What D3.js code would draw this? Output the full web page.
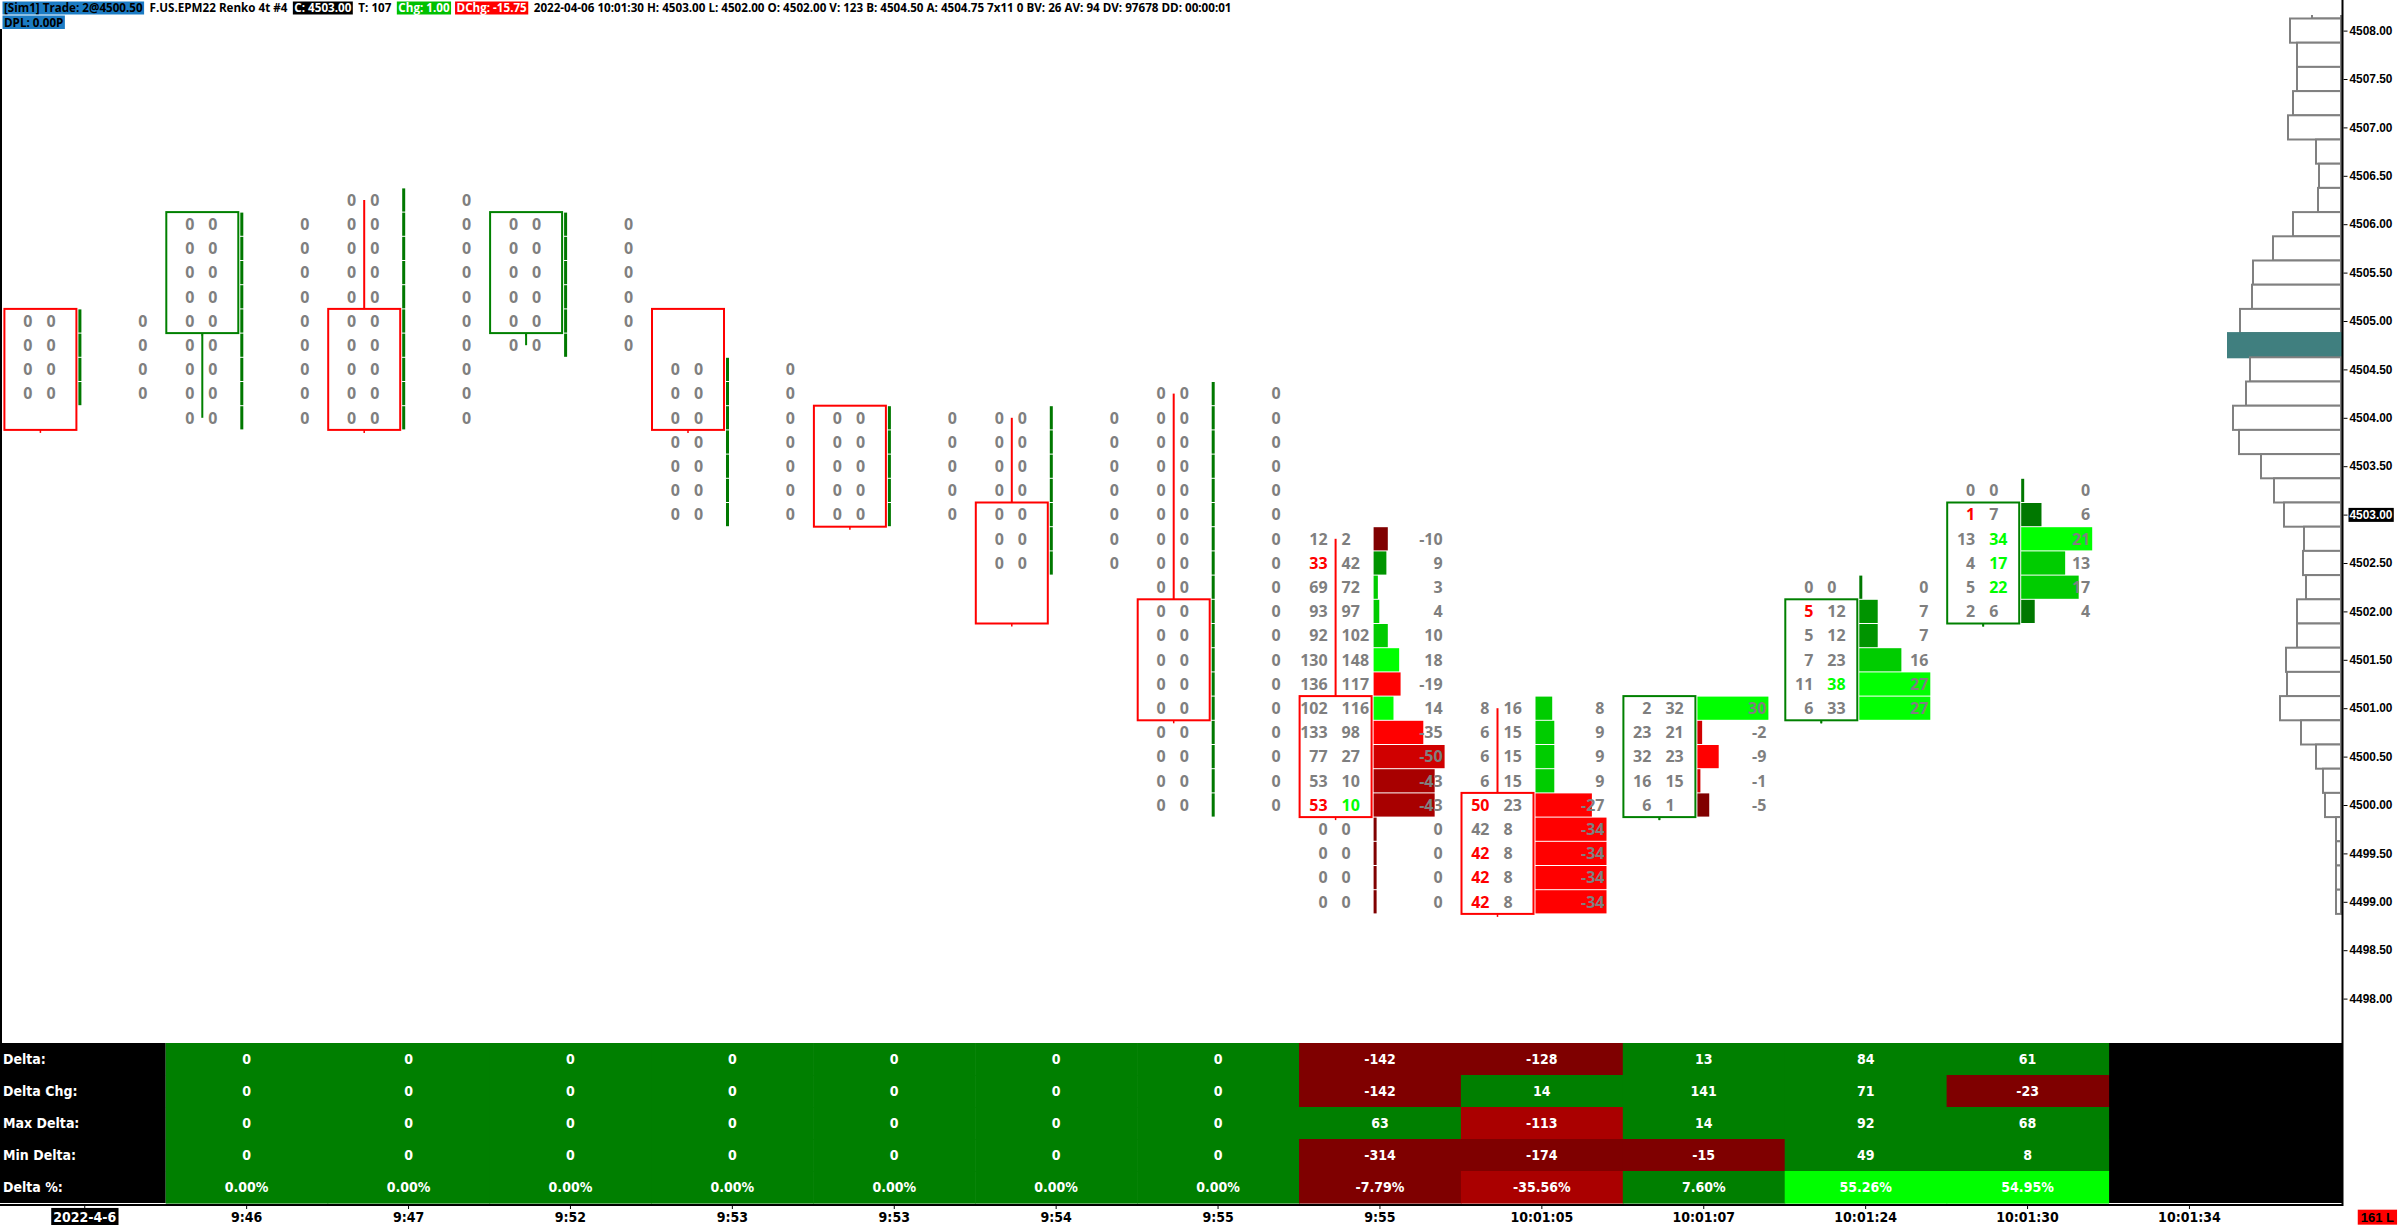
<!DOCTYPE html>
<html>
<head>
<meta charset="utf-8">
<script src="https://cdn.jsdelivr.net/npm/d3@7"></script>
<style>
  html, body { margin: 0; padding: 0; background: #fff; }
  svg { display: block; }
</style>
</head>
<body>
<div id="chart"></div>
<script>
// ---- data ----
const barTimes = ["2022-4-6", "9:46", "9:47", "9:52", "9:53", "9:53", "9:54", "9:55", "9:55",
    "10:01:05", "10:01:07", "10:01:24", "10:01:30", "10:01:34"];

const barOpen  = [4505, 4505, 4505, 4505, 4505, 4504, 4503, 4502, 4501, 4500, 4500, 4501, 4502];
const barClose = [4504, 4506, 4504, 4506, 4504, 4503, 4502, 4501, 4500, 4499, 4501, 4502, 4503];
const barHigh  = [4505, 4506, 4506.25, 4506, 4504.5, 4504, 4504, 4504.25, 4502.75, 4501, 4501, 4502.25, 4503.25];
const barLow   = [4504.25, 4504, 4504, 4504.75, 4503, 4503, 4502.5, 4500, 4499, 4499, 4500, 4501, 4502];

// bid / ask volume per price row, from the bar high down to the bar low
const barBids = [
    [0, 0, 0, 0],
    [0, 0, 0, 0, 0, 0, 0, 0, 0],
    [0, 0, 0, 0, 0, 0, 0, 0, 0, 0],
    [0, 0, 0, 0, 0, 0],
    [0, 0, 0, 0, 0, 0, 0],
    [0, 0, 0, 0, 0],
    [0, 0, 0, 0, 0, 0, 0],
    [0, 0, 0, 0, 0, 0, 0, 0, 0, 0, 0, 0, 0, 0, 0, 0, 0, 0],
    [12, 33, 69, 93, 92, 130, 136, 102, 133, 77, 53, 53, 0, 0, 0, 0],
    [8, 6, 6, 6, 50, 42, 42, 42, 42],
    [2, 23, 32, 16, 6],
    [0, 5, 5, 7, 11, 6],
    [0, 1, 13, 4, 5, 2]
];
const barAsks = [
    [0, 0, 0, 0],
    [0, 0, 0, 0, 0, 0, 0, 0, 0],
    [0, 0, 0, 0, 0, 0, 0, 0, 0, 0],
    [0, 0, 0, 0, 0, 0],
    [0, 0, 0, 0, 0, 0, 0],
    [0, 0, 0, 0, 0],
    [0, 0, 0, 0, 0, 0, 0],
    [0, 0, 0, 0, 0, 0, 0, 0, 0, 0, 0, 0, 0, 0, 0, 0, 0, 0],
    [2, 42, 72, 97, 102, 148, 117, 116, 98, 27, 10, 10, 0, 0, 0, 0],
    [16, 15, 15, 15, 23, 8, 8, 8, 8],
    [32, 21, 23, 15, 1],
    [0, 12, 12, 23, 38, 33],
    [0, 7, 34, 17, 22, 6]
];

// [bar, price] of highlighted imbalance cells
const bidImbalances = [[8, 4502.5], [8, 4500], [9, 4500], [9, 4499.5], [9, 4499.25], [9, 4499], [11, 4502], [12, 4503]];
const askImbalances = [[8, 4500], [11, 4501.25], [12, 4502.75], [12, 4502.5], [12, 4502.25]];

// summary table, bars 1..12
const summaryLabels = ["Delta:", "Delta Chg:", "Max Delta:", "Min Delta:", "Delta %:"];
const deltaValues    = [0, 0, 0, 0, 0, 0, 0, -142, -128, 13, 84, 61];
const deltaChgValues = [0, 0, 0, 0, 0, 0, 0, -142, 14, 141, 71, -23];
const maxDeltaValues = [0, 0, 0, 0, 0, 0, 0, 63, -113, 14, 92, 68];
const minDeltaValues = [0, 0, 0, 0, 0, 0, 0, -314, -174, -15, 49, 8];
const deltaPctValues = [0, 0, 0, 0, 0, 0, 0, -7.79, -35.56, 7.60, 55.26, 54.95];

// session volume profile
const profilePrices = [4508.25, 4508, 4507.75, 4507.5, 4507.25, 4507, 4506.75, 4506.5, 4506.25, 4506,
    4505.75, 4505.5, 4505.25, 4505, 4504.75, 4504.5, 4504.25, 4504, 4503.75, 4503.5, 4503.25, 4503,
    4502.75, 4502.5, 4502.25, 4502, 4501.75, 4501.5, 4501.25, 4501, 4500.75, 4500.5, 4500.25, 4500,
    4499.75, 4499.5, 4499.25, 4499];
const profileVolumes = [290, 510, 440, 440, 480, 530, 250, 220, 230, 480,
    680, 880, 890, 1010, 1130, 910, 950, 1080, 1020, 800, 670, 570,
    370, 380, 350, 440, 440, 550, 540, 610, 400, 250, 180, 160,
    50, 50, 50, 50];
const pocPrice = 4504.75;
const lastPrice = 4503.00;

const priceTicks = [4508, 4507.5, 4507, 4506.5, 4506, 4505.5, 4505, 4504.5, 4504, 4503.5, 4503,
    4502.5, 4502, 4501.5, 4501, 4500.5, 4500, 4499.5, 4499, 4498.5, 4498];

// ---- layout ----
const width = 2400, height = 1225;
const axisX = 2342;
const bottomY = 1205;
const tableTop = 1043, tableRowH = 32;
const step = 161.9;
const numFont = "'Open Sans', 'DejaVu Sans', sans-serif";
const narrowFont = "'Liberation Sans Narrow', 'DejaVu Sans Condensed', 'Liberation Sans', sans-serif";
const axisFont = "'Liberation Sans', Arial, sans-serif";
const grey = "#7f7f7f";
const redShades = ["#800000", "#a80000", "#d00000", "#ff0000"];
const greenShades = ["#007800", "#009400", "#00cc00", "#00ff00"];

const x = d3.scaleBand(d3.range(barTimes.length), [3.8, 3.8 + step * barTimes.length]).padding(0);
const y = d3.scaleLinear([4498, 4508], [998.6, 30.6]);
const rowH = y(4508) - y(4508.25);
const a = i => x(i) + 74.6;          // left edge of the delta bar column of a bar

const level = d3.scaleThreshold([0.25, 0.45, 0.75], [0, 1, 2, 3]);

const svg = d3.select("#chart")
    .append("svg")
    .attr("width", width)
    .attr("height", height)
    .attr("viewBox", [0, 0, width, height]);

svg.append("rect").attr("width", width).attr("height", height).attr("fill", "#fff");

// width of a string in a given face
function measure(sample, family, weight, size) {
    const t = svg.append("text")
        .attr("font-family", family).attr("font-weight", weight).attr("font-size", size)
        .style("white-space", "pre")
        .text(sample);
    const w = t.node().getComputedTextLength();
    t.remove();
    return w;
}

// ---- footprint rows ----
const key = (b, p) => b + "|" + p;
const bidImb = new Set(bidImbalances.map(([b, p]) => key(b, p)));
const askImb = new Set(askImbalances.map(([b, p]) => key(b, p)));

const rows = [];
barBids.forEach((bids, b) => {
    const asks = barAsks[b];
    const net = d3.sum(asks) - d3.sum(bids);
    const maxBid = d3.max(bids), maxAsk = d3.max(asks);
    const maxAbs = d3.max(bids, (v, k) => Math.abs(asks[k] - v));
    bids.forEach((bid, k) => {
        const ask = asks[k];
        const price = barHigh[b] - 0.25 * k;
        rows.push({ b, price, bid, ask, delta: ask - bid, net, maxBid, maxAsk, maxAbs });
    });
});

const barLen = d => d.delta === 0 || !d.maxAbs ? 3 : Math.max(3, Math.abs(d.delta) / d.maxAbs * 71);
const barColor = d => {
    if (d.delta === 0) return d.net < 0 ? redShades[0] : greenShades[0];
    if (d.delta > 0) return greenShades[level(d.ask / d.maxAsk)];
    return redShades[level(d.bid / d.maxBid)];
};

svg.append("g")
    .selectAll("rect")
    .data(rows)
    .join("rect")
    .attr("x", d => a(d.b))
    .attr("y", d => y(d.price) - rowH / 2 + 0.5)
    .attr("width", barLen)
    .attr("height", rowH - 1)
    .attr("fill", barColor);

// bricks and wicks
const bricks = d3.range(barOpen.length);
const brickColor = i => barClose[i] > barOpen[i] ? "#008000" : "#ff0000";
const brickTop = i => y(Math.max(barOpen[i], barClose[i])) - rowH / 2;
const brickBottom = i => y(Math.min(barOpen[i], barClose[i])) + rowH / 2;

svg.append("g")
    .attr("fill", "none")
    .attr("stroke-width", 2)
    .selectAll("rect")
    .data(bricks)
    .join("rect")
    .attr("x", i => a(i) - 74)
    .attr("y", brickTop)
    .attr("width", 72)
    .attr("height", i => brickBottom(i) - brickTop(i))
    .attr("stroke", brickColor);

svg.append("g")
    .attr("stroke-width", 2)
    .selectAll("line")
    .data(bricks)
    .join("line")
    .attr("x1", i => a(i) - 38)
    .attr("x2", i => a(i) - 38)
    .attr("y1", i => barClose[i] > barOpen[i] ? brickBottom(i) : brickTop(i))
    .attr("y2", i => {
        if (barClose[i] > barOpen[i]) return barLow[i] < barOpen[i] ? y(barLow[i]) : brickBottom(i) + 3;
        return barHigh[i] > barOpen[i] ? y(barHigh[i]) : brickTop(i);
    })
    .attr("stroke", brickColor);

// little tick under every brick
svg.append("g")
    .attr("stroke-width", 1.5)
    .selectAll("line")
    .data(bricks)
    .join("line")
    .attr("x1", i => a(i) - 38)
    .attr("x2", i => a(i) - 38)
    .attr("y1", brickBottom)
    .attr("y2", i => brickBottom(i) + 3)
    .attr("stroke", brickColor);

// numbers
const txt = svg.append("g")
    .attr("font-family", numFont)
    .attr("font-weight", 700)
    .attr("font-size", 16);

txt.selectAll("text.bid")
    .data(rows)
    .join("text")
    .attr("class", "bid")
    .attr("x", d => a(d.b) - 46)
    .attr("y", d => y(d.price))
    .attr("dy", "0.36em")
    .attr("text-anchor", "end")
    .attr("fill", d => bidImb.has(key(d.b, d.price)) ? "#ff0000" : grey)
    .text(d => d.bid);

txt.selectAll("text.ask")
    .data(rows)
    .join("text")
    .attr("class", "ask")
    .attr("x", d => a(d.b) - 32)
    .attr("y", d => y(d.price))
    .attr("dy", "0.36em")
    .attr("text-anchor", "start")
    .attr("fill", d => askImb.has(key(d.b, d.price)) ? "#00ff00" : grey)
    .text(d => d.ask);

txt.selectAll("text.delta")
    .data(rows)
    .join("text")
    .attr("class", "delta")
    .attr("x", d => a(d.b) + 69)
    .attr("y", d => y(d.price))
    .attr("dy", "0.36em")
    .attr("text-anchor", "end")
    .attr("fill", grey)
    .text(d => d.delta);

// ---- volume profile ----
svg.append("clipPath").attr("id", "clip")
    .append("rect").attr("x", 2000).attr("y", 15).attr("width", axisX - 2000).attr("height", 1000);

const vol = d3.scaleLinear([0, d3.max(profileVolumes)], [0, 113]);
svg.append("g")
    .attr("clip-path", "url(#clip)")
    .selectAll("rect")
    .data(profilePrices)
    .join("rect")
    .attr("x", (p, k) => axisX - 1 - vol(profileVolumes[k]))
    .attr("y", p => y(p) - rowH / 2)
    .attr("width", (p, k) => vol(profileVolumes[k]))
    .attr("height", rowH)
    .attr("fill", p => p === pocPrice ? "#407f7f" : "#fff")
    .attr("stroke", p => p === pocPrice ? "#407f7f" : "#808080")
    .attr("stroke-width", 2);

// ---- summary table ----
const summaryRows = [deltaValues, deltaChgValues, maxDeltaValues, minDeltaValues, deltaPctValues];
const strongAt = [Infinity, Infinity, 100, Infinity, 30];
const cellColor = (v, s) => v < 0 ? (-v >= s ? "#aa0000" : "#7f0000") : (v >= s ? "#00ff00" : "#007f00");
const fmt = (v, r) => r === 4 ? v.toFixed(2) + "%" : String(v);

const table = svg.append("g");
table.append("rect")
    .attr("x", 0).attr("y", tableTop)
    .attr("width", x(1)).attr("height", tableRowH * 5)
    .attr("fill", "#000");
table.append("rect")
    .attr("x", x(13)).attr("y", tableTop)
    .attr("width", axisX - x(13)).attr("height", tableRowH * 5)
    .attr("fill", "#000");

summaryRows.forEach((vals, r) => {
    const g = table.append("g");
    g.selectAll("rect")
        .data(vals)
        .join("rect")
        .attr("x", (v, k) => x(k + 1))
        .attr("y", tableTop + r * tableRowH)
        .attr("width", x.bandwidth() + 0.6)
        .attr("height", tableRowH + 0.6)
        .attr("fill", v => cellColor(v, strongAt[r]));
    g.selectAll("text")
        .data(vals)
        .join("text")
        .attr("x", (v, k) => x(k + 1) + x.bandwidth() / 2)
        .attr("y", tableTop + r * tableRowH + tableRowH / 2)
        .attr("dy", "0.36em")
        .attr("text-anchor", "middle")
        .attr("fill", "#fff")
        .attr("font-family", narrowFont)
        .attr("font-weight", 700)
        .attr("font-size", 14)
        .text(v => fmt(v, r));
    g.append("text")
        .attr("x", 3)
        .attr("y", tableTop + r * tableRowH + tableRowH / 2)
        .attr("dy", "0.36em")
        .attr("fill", "#fff")
        .attr("font-family", narrowFont)
        .attr("font-weight", 700)
        .attr("font-size", 14)
        .text(summaryLabels[r]);
});

// ---- axes ----
svg.append("line")
    .attr("x1", 1).attr("x2", 1).attr("y1", 29).attr("y2", tableTop)
    .attr("stroke", "#000").attr("stroke-width", 2);
svg.append("line")
    .attr("x1", axisX + 0.5).attr("x2", axisX + 0.5).attr("y1", 0).attr("y2", bottomY + 1)
    .attr("stroke", "#000").attr("stroke-width", 2);
svg.append("line")
    .attr("x1", 0).attr("x2", axisX + 1).attr("y1", bottomY).attr("y2", bottomY)
    .attr("stroke", "#000").attr("stroke-width", 2);

const priceFs = Math.min(13, 43 / measure("4508.00", axisFont, 700, 1));

const yAxis = d3.axisRight(y)
    .tickValues(priceTicks)
    .tickFormat(d3.format(".2f"))
    .tickSize(4)
    .tickPadding(2);

const yg = svg.append("g")
    .attr("transform", `translate(${axisX + 1.5},0)`)
    .call(yAxis)
    .call(g => g.select(".domain").remove())
    .call(g => g.selectAll("text")
        .attr("font-family", axisFont)
        .attr("font-weight", 700)
        .attr("font-size", priceFs)
        .attr("fill", "#000"));

yg.selectAll(".tick")
    .filter(d => d === lastPrice)
    .each(function () {
        const t = d3.select(this).select("text");
        const bb = t.node().getBBox();
        d3.select(this).insert("rect", "text")
            .attr("x", bb.x - 1).attr("y", bb.y)
            .attr("width", bb.width + 2).attr("height", bb.height)
            .attr("fill", "#000");
        t.attr("fill", "#fff");
    });

const xAxis = d3.axisBottom(x)
    .tickFormat(i => barTimes[i])
    .tickSize(4)
    .tickPadding(3);

const xg = svg.append("g")
    .attr("transform", `translate(0,${bottomY})`)
    .call(xAxis)
    .call(g => g.select(".domain").remove())
    .call(g => g.selectAll("text")
        .attr("font-family", narrowFont)
        .attr("font-weight", 700)
        .attr("font-size", 14)
        .attr("fill", "#000"));

xg.selectAll(".tick")
    .filter(d => d === 0)
    .each(function () {
        const t = d3.select(this).select("text");
        const bb = t.node().getBBox();
        d3.select(this).insert("rect", "text")
            .attr("x", bb.x - 2).attr("y", bb.y - 1)
            .attr("width", bb.width + 4).attr("height", bb.height + 2)
            .attr("fill", "#000");
        t.attr("fill", "#fff");
    });

// trade count box under the price axis
const lbl = svg.append("g").attr("transform", "translate(2394,1217)");
const lt = lbl.append("text")
    .attr("text-anchor", "end")
    .attr("dy", "0.36em")
    .attr("font-family", axisFont)
    .attr("font-weight", 700)
    .attr("font-size", 13)
    .attr("fill", "#000")
    .text("161 L");
const lbb = lt.node().getBBox();
lbl.insert("rect", "text")
    .attr("x", lbb.x - 3).attr("y", lbb.y)
    .attr("width", lbb.width + 6).attr("height", lbb.height)
    .attr("fill", "#ff0000");

// ---- header ----
const headerLine = [
    { t: "[Sim1]  Trade: 2@4500.50", bg: "#1c7cc4", fg: "#000" },
    { t: "F.US.EPM22  Renko 4t  #4", fg: "#000" },
    { t: "C: 4503.00", bg: "#000", fg: "#fff" },
    { t: "T: 107", fg: "#000" },
    { t: "Chg: 1.00", bg: "#00c000", fg: "#fff" },
    { t: "DChg: -15.75", bg: "#ff0000", fg: "#fff" },
    { t: "2022-04-06 10:01:30 H: 4503.00 L: 4502.00 O: 4502.00 V: 123 B: 4504.50 A: 4504.75 7x11 0 BV: 26 AV: 94 DV: 97678 DD: 00:00:01", fg: "#000" }
];
const gap = 4, pad = 1.5, headerEnd = 1243;
const header = svg.append("g")
    .attr("font-family", numFont)
    .attr("font-weight", 700)
    .style("white-space", "pre");

const fixedSpace = gap * (headerLine.length - 1) + pad * 2 * headerLine.length;
const textSpace = headerEnd - 2.5 - fixedSpace;
const hfs = Math.max(9, Math.min(14,
    12 * textSpace / measure(headerLine.map(s => s.t).join(""), numFont, 700, 12)));
header.attr("font-size", hfs);

let hx = 2.5;
headerLine.forEach(s => {
    const bgRect = s.bg ? header.append("rect").attr("y", 1.5).attr("height", 13).attr("fill", s.bg) : null;
    const t = header.append("text")
        .attr("x", hx + pad).attr("y", 8).attr("dy", "0.36em")
        .attr("fill", s.fg)
        .text(s.t);
    const w = t.node().getComputedTextLength() + pad * 2;
    if (bgRect) bgRect.attr("x", hx).attr("width", w);
    hx += w + gap;
});

const dpl = header.append("text")
    .attr("x", 2.5 + pad).attr("y", 22.5).attr("dy", "0.36em")
    .attr("fill", "#000")
    .text("DPL: 0.00P");
header.insert("rect", "text")
    .attr("x", 2.5).attr("y", 15.5)
    .attr("width", dpl.node().getComputedTextLength() + pad * 2).attr("height", 13.5)
    .attr("fill", "#1c7cc4");
</script>
</body>
</html>
